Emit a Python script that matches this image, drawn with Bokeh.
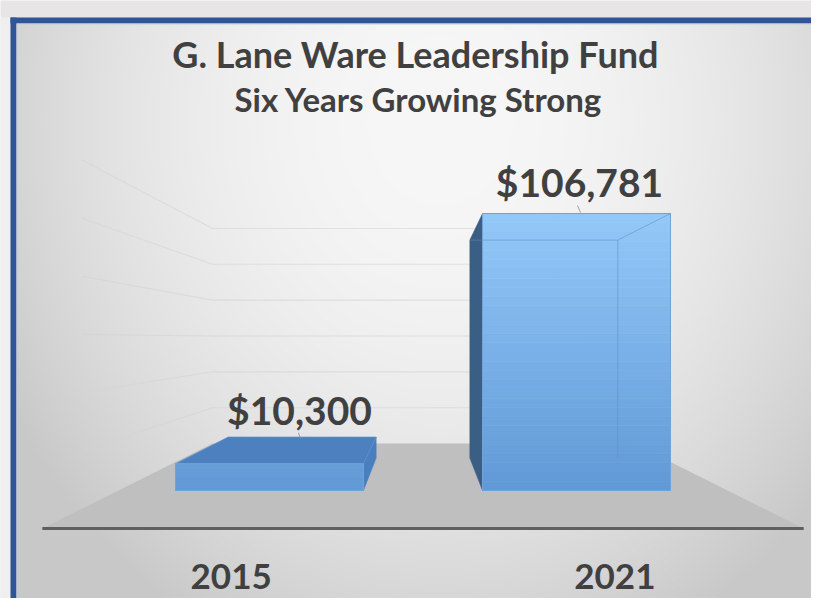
import numpy as np
from bokeh.plotting import figure
from bokeh.models import Range1d
from bokeh.embed import file_html
from bokeh.resources import INLINE
from bokeh.core.properties import value

# ---------------- data ----------------
years = ["2015", "2021"]
amounts = [10300, 106781]
value_labels = ["$10,300", "$106,781"]
title_line1 = "G. Lane Ware Leadership Fund"
title_line2 = "Six Years Growing Strong"
grid_values = [20000, 40000, 60000, 80000, 100000, 120000]

# ---------------- layout / style ----------------
W, H = 811, 598
PX_PER_CAT = 307.0          # pixels between category centres
USD_PER_PX = 385.49         # dollars per vertical pixel at bar front
FONT = value("Lato")
TXT = "#404040"

def X(px):  # layout pixel -> data x
    return 1 + (px - 269) / PX_PER_CAT

def Y(py):  # layout pixel -> data y
    return (490 - py) * USD_PER_PX

def DX(px):
    return px / PX_PER_CAT

def DY(px):
    return px * USD_PER_PX

VPX, VPY = 1.5, Y(338)      # vanishing point
BAR_W = 188 / PX_PER_CAT
BAR_D = 0.213
FLOOR_L, FLOOR_R = 0.508, 2.492
FLOOR_FRONT, FLOOR_BACK = -0.25, 0.309
LABEL_SHIFT = [(30, 54), (3, 31)]   # px right / px up (text middle) from front-top centre
LEADER = [((29, 31), (31, 25)), ((1, 8), (4, 1))]  # (start px, end px) offsets

def proj(x, y, d):
    return x + (VPX - x) * d, y + (VPY - y) * d

p = figure(width=W, height=H, x_range=Range1d(X(0), X(W)),
           y_range=Range1d(Y(H), Y(0)), output_backend="svg",
           toolbar_location=None, x_axis_location=None, y_axis_location=None,
           min_border=0, outline_line_color=None,
           background_fill_color="#e7e5e5", border_fill_color="#e7e5e5")
p.grid.visible = False

# ---------------- background gradient ----------------
x0p, x1p, y0p, y1p = 16, W, 23, H
nw, nh = (x1p - x0p) // 2, (y1p - y0p) // 2
xs = np.linspace(x0p, x1p, nw)
ys = np.linspace(y1p, y0p, nh)   # row 0 at bottom
XX, YY = np.meshgrid(xs, ys)
L = 247 - 30 * ((XX - 440) / 400) ** 2 - 32 * ((YY - 120) / 480) ** 2
L = np.clip(L, 200, 250).astype(np.uint8)
img = np.empty((nh, nw), dtype=np.uint32)
view = img.view(dtype=np.uint8).reshape((nh, nw, 4))
view[..., 0] = L
view[..., 1] = L
view[..., 2] = L
view[..., 3] = 255
p.image_rgba(image=[img], x=X(x0p), y=Y(y1p), dw=DX(x1p - x0p), dh=DY(y1p - y0p))

# ---------------- frame ----------------
p.quad(left=[X(0)], right=[X(10)], bottom=[Y(H)], top=[Y(17)], fill_color="#efefef", line_color=None)
p.quad(left=[X(10)], right=[X(W)], bottom=[Y(23)], top=[Y(17)], fill_color="#2e5596", line_color=None)
p.quad(left=[X(16)], right=[X(W)], bottom=[Y(24)], top=[Y(23)], fill_color="#c3cddd", line_color=None)
p.quad(left=[X(10)], right=[X(16)], bottom=[Y(H)], top=[Y(17)], fill_color="#2e5596", line_color=None)
p.quad(left=[X(16)], right=[X(17)], bottom=[Y(H)], top=[Y(23)], fill_color="#c3cddd", line_color=None)

# ---------------- walls gridlines ----------------
gx, gy = [], []
for v in grid_values:
    bl = proj(FLOOR_L, v, FLOOR_BACK)
    br = proj(FLOOR_R, v, FLOOR_BACK)
    fl = proj(FLOOR_L, v, -0.12)
    gx.append([fl[0], bl[0], br[0]])
    gy.append([fl[1], bl[1], br[1]])
p.multi_line(xs=gx, ys=gy, line_color="#d4d4d4", line_width=1.1, line_alpha=0.6)

# ---------------- floor ----------------
corners = [proj(FLOOR_L, 0, FLOOR_FRONT), proj(FLOOR_R, 0, FLOOR_FRONT),
           proj(FLOOR_R, 0, FLOOR_BACK), proj(FLOOR_L, 0, FLOOR_BACK)]
p.patch(x=[c[0] for c in corners], y=[c[1] for c in corners],
        fill_color="#bfbfbf", line_color=None)
fa, fb = corners[0], corners[1]
p.line(x=[fa[0], fb[0]], y=[fa[1], fb[1]], line_color="#5f5f5f", line_width=3)

# ---------------- bars ----------------
def lerp(c0, c1, t):
    return "#%02x%02x%02x" % tuple(int(round(a + (b - a) * t)) for a, b in zip(c0, c1))

BOT_C, TOP_C = (96, 153, 214), (151, 204, 251)
vmax = 115000.0
for i, (yr, amt) in enumerate(zip(years, amounts)):
    pos = i + 1
    x0, x1 = pos - BAR_W / 2, pos + BAR_W / 2
    # side face
    if x1 < VPX:
        side = [(x1, 0), (x1, amt), proj(x1, amt, BAR_D), proj(x1, 0, BAR_D)]
        side_c = "#4a7fbf"
    else:
        side = [(x0, 0), (x0, amt), proj(x0, amt, BAR_D), proj(x0, 0, BAR_D)]
        side_c = "#3b5f84"
    p.patch(x=[s[0] for s in side], y=[s[1] for s in side], fill_color=side_c,
            line_color=side_c, line_width=0.5)
    # top face
    if amt < VPY:
        top = [(x0, amt), (x1, amt), proj(x1, amt, BAR_D), proj(x0, amt, BAR_D)]
        p.patch(x=[s[0] for s in top], y=[s[1] for s in top], fill_color="#4c80be",
                line_color="#5b8fcc", line_width=0.8)
    # front face with vertical gradient
    n = 30
    bb = [amt * k / n for k in range(n)]
    tt = [amt * (k + 1) / n for k in range(n)]
    cols = [lerp(BOT_C, TOP_C, ((b + t) / 2) / vmax) for b, t in zip(bb, tt)]
    p.quad(left=[x0] * n, right=[x1] * n, bottom=bb, top=tt, fill_color=cols,
           line_color=cols, line_width=0.6)
    p.quad(left=[x0], right=[x1], bottom=[0], top=[amt], fill_color=None,
           line_color="#6fa3db", line_width=1)
    # back edges seen through the semi-transparent bar
    if amt > VPY:
        b_l = proj(x0, amt, BAR_D)
        b_r = proj(x1, amt, BAR_D)
        b_r0 = proj(x1, 0, BAR_D)
        p.multi_line(xs=[[b_l[0], b_r[0], b_r0[0]], [x1, b_r[0]]],
                     ys=[[b_l[1], b_r[1], b_r0[1]], [amt, b_r[1]]],
                     line_color="#5a8ec8", line_alpha=0.55, line_width=1)

# ---------------- labels ----------------
lx = [i + 1 + DX(LABEL_SHIFT[i][0]) for i in range(len(amounts))]
ly = [amounts[i] + DY(LABEL_SHIFT[i][1]) for i in range(len(amounts))]
p.text(x=lx, y=ly, text=value_labels, text_align="center", text_baseline="middle",
       text_font=FONT, text_font_style="bold", text_font_size="39px", text_color=TXT)

# small leader ticks between labels and bar tops
lead_x, lead_y = [], []
for i, amt in enumerate(amounts):
    (sx, sy), (ex, ey) = LEADER[i]
    lead_x.append([i + 1 + DX(sx), i + 1 + DX(ex)])
    lead_y.append([amt + DY(sy), amt + DY(ey)])
p.multi_line(xs=lead_x, ys=lead_y, line_color="#8c8c8c", line_width=1, line_alpha=0.8)

cx = [proj(i + 1, 0, FLOOR_FRONT)[0] for i in range(len(years))]
p.text(x=cx, y=[Y(576)] * len(years), text=years, text_align="center",
       text_baseline="middle", text_font=FONT, text_font_style="bold",
       text_font_size="35px", text_color=TXT)

p.text(x=[X(415)], y=[Y(53)], text=[title_line1], text_align="center",
       text_baseline="middle", text_font=FONT, text_font_style="bold",
       text_font_size="36px", text_color=TXT)
p.text(x=[X(418)], y=[Y(98)], text=[title_line2], text_align="center",
       text_baseline="middle", text_font=FONT, text_font_style="bold",
       text_font_size="33px", text_color=TXT)

open("out.html", "w").write(file_html(p, INLINE))
